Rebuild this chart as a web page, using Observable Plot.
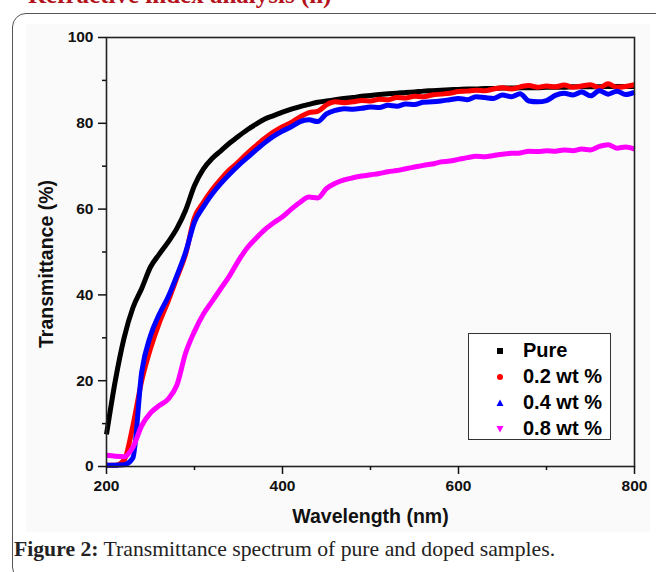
<!DOCTYPE html>
<html><head><meta charset="utf-8">
<script src="https://cdn.jsdelivr.net/npm/d3@7"></script>
<script src="https://cdn.jsdelivr.net/npm/@observablehq/plot@0.6"></script>
<style>
body{margin:0;background:#fff;}
#wrap{position:relative;width:656px;height:572px;overflow:hidden;font-family:"Liberation Sans",Arial,sans-serif;}
#hdr{position:absolute;left:28px;top:-19px;font-family:"Liberation Serif",serif;font-weight:bold;font-size:25px;color:#b3121c;white-space:nowrap;}
#box{position:absolute;left:12px;top:13px;width:720px;height:566px;border:1.5px solid #555;border-radius:14px;}
#bg{position:absolute;left:26px;top:24px;width:624px;height:508px;background:#fafafa;}
#chart{position:absolute;left:0;top:0;}
#legend{position:absolute;left:468px;top:333px;width:141px;height:105px;border:1px solid #333;background:#fff;}
.row{position:absolute;left:0;height:26px;width:141px;}
.row svg{position:absolute;left:25px;top:8px;}
.row span{position:absolute;left:54px;top:0;font-weight:bold;font-size:20px;line-height:26px;color:#000;}
#cap{position:absolute;left:14px;top:537px;font-family:"Liberation Serif",serif;font-size:21.7px;color:#222;white-space:nowrap;}
</style></head>
<body>
<div id="wrap">
  <div id="hdr">Refractive index analysis (n)</div>
  <div id="box"></div>
  <div id="bg"></div>
  <div id="chart"></div>
  <div id="legend"></div>
  <div id="cap"><b>Figure 2:</b> Transmittance spectrum of pure and doped samples.</div>
</div>
<script>
const wavelength = [200,210,220,230,240,250,260,270,280,290,300,310,320,330,340,350,360,370,380,390,400,410,420,430,440,450,460,470,480,490,500,510,520,530,540,550,560,570,580,590,600,610,620,630,640,650,660,670,680,690,700,710,720,730,740,750,760,770,780,790,800];
const pure = [7.5,20,30,37,41.5,46.5,49.5,52.3,55.5,59.8,65.5,69.3,71.8,73.6,75.4,77,78.5,79.8,81,81.8,82.6,83.3,83.9,84.4,84.9,85.2,85.5,85.8,86,86.3,86.5,86.7,86.9,87,87.2,87.3,87.5,87.6,87.7,87.8,87.9,88,88,88.1,88.1,88.2,88.2,88.3,88.3,88.3,88.4,88.4,88.4,88.5,88.5,88.5,88.5,88.6,88.6,88.6,88.6];
const wt02 = [0.3,0.3,1.5,9.5,20,27.5,33.5,38.5,44,49.6,58,61.5,64.5,67,69.2,71,73,74.8,76.5,78,79.2,80.2,81.5,82.5,82.8,84.3,85,84.8,85,85.3,85.2,85.6,85.5,86,85.9,86.3,86.2,86.6,86.8,87,87.4,87.5,87.7,87.6,88,88.3,88,88.5,88.8,88.4,88.7,88.5,88.9,88.4,88.7,89,88.3,89.2,88.4,88.6,89];
const wt04 = [0.3,0.3,0.4,2,22,30.5,35.5,39.5,44.5,50,57,60.5,63.5,66,68.2,70.2,72,73.8,75.5,77,78.2,79.2,80.4,80.8,80.4,82.2,83,83.4,83.3,83.5,83.8,83.7,84.2,84,84.5,84.4,84.9,85,85.2,85.5,85.8,85.5,86.2,86,85.8,86.6,86.2,86.9,85.2,85,85.3,86.5,87,86.6,87.3,86.4,87.6,86.8,87.5,86.7,87.2];
const wt08 = [2.6,2.4,2.3,4.5,9.5,12.5,14.2,15.7,19,26.5,31.5,35.5,38.5,41.5,44.5,48,51,53.2,55.2,56.8,58.2,60,61.6,62.8,62.6,64.8,66,66.8,67.3,67.7,68,68.3,68.7,69,69.4,69.8,70.2,70.5,71,71.2,71.6,72,72.3,72.2,72.5,72.8,73,73.1,73.5,73.4,73.6,73.5,73.8,73.6,74,73.8,74.6,75,74.2,74.5,74];
const seriesNames = ["Pure","0.2 wt %","0.4 wt %","0.8 wt %"];
const seriesValues = [pure, wt02, wt04, wt08];
const seriesColors = ["#000000","#ff0000","#0000ff","#ff00ff"];
const xTicks = [200,400,600,800];
const xMinor = [300,500,700];
const yTicks = [0,20,40,60,80,100];
const yMinor = [10,30,50,70,90];
const xTitle = "Wavelength (nm)";
const yTitle = "Transmittance (%)";

const lineMarks = seriesValues.map((vals, k) =>
  Plot.line(wavelength.map((w, i) => ({w, v: vals[i]})), {
    x: "w", y: "v", stroke: seriesColors[k], strokeWidth: 5, strokeLinejoin: "round", strokeLinecap: "butt", curve: "monotone-x"
  })
);

const chart = Plot.plot({
  width: 656, height: 540,
  marginLeft: 106, marginRight: 22, marginTop: 37, marginBottom: 74,
  x: {domain: [200, 800]},
  y: {domain: [0, 100]},
  style: {fontFamily: "Liberation Sans, Arial, sans-serif", background: "transparent", color: "#111"},
  marks: [
    ...lineMarks,
    Plot.frame({stroke: "#222", strokeWidth: 1.6}),
    Plot.axisY(yTicks, {tickSize: 8, tickPadding: 5, fontSize: 15.5, fontWeight: "bold", label: null, strokeWidth: 1.5}),
    Plot.axisY(yMinor, {tickSize: 4, text: null, label: null, strokeWidth: 1.5}),
    Plot.axisX(xTicks, {tickSize: 8, tickPadding: 5, fontSize: 15.5, fontWeight: "bold", label: null, strokeWidth: 1.5}),
    Plot.axisX(xMinor, {tickSize: 4, text: null, label: null, strokeWidth: 1.5}),
    Plot.text([xTitle], {text: d => d, frameAnchor: "bottom", dy: 56, fontSize: 19.5, fontWeight: "bold"}),
    Plot.text([yTitle], {text: d => d, frameAnchor: "left", textAnchor: "middle", dx: -60, dy: 12, rotate: -90, fontSize: 19.5, fontWeight: "bold"})
  ]
});
document.getElementById("chart").appendChild(chart);

// legend
const symbols = [
  '<rect x="3" y="3" width="6" height="6" fill="#000"/>',
  '<circle cx="6" cy="6" r="3" fill="#ff0000"/>',
  '<path d="M6 2.5 L9.5 9 L2.5 9 Z" fill="#0000ff"/>',
  '<path d="M2.5 3 L9.5 3 L6 9.5 Z" fill="#ff00ff"/>'
];
const leg = document.getElementById("legend");
seriesNames.forEach((name, k) => {
  const row = document.createElement("div");
  row.className = "row";
  row.style.top = (3 + k * 26) + "px";
  row.innerHTML = `<svg width="12" height="12">${symbols[k]}</svg><span>${name}</span>`;
  leg.appendChild(row);
});
</script>
</body></html>
